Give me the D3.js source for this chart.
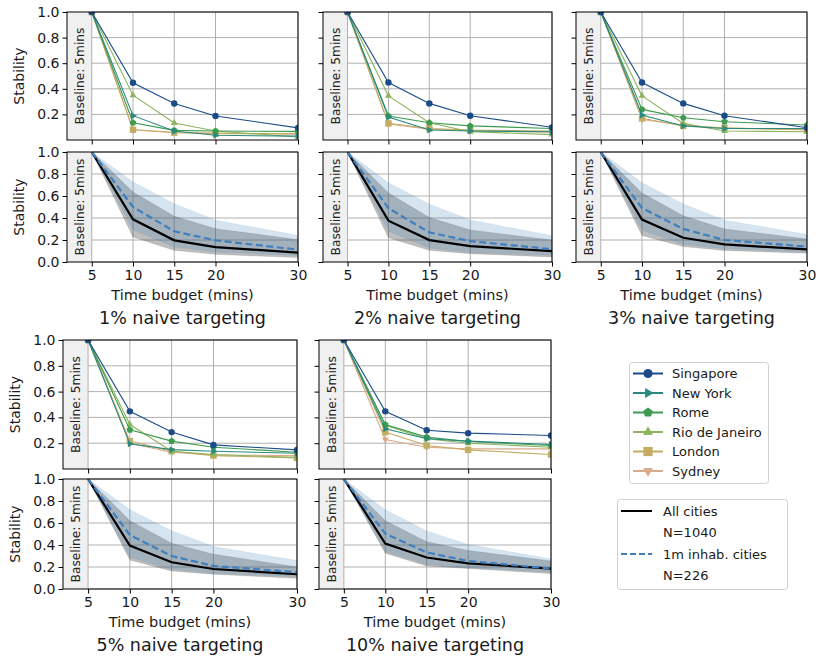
<!DOCTYPE html>
<html><head><meta charset="utf-8">
<script src="https://cdn.jsdelivr.net/npm/d3@7"></script>
<style>
html,body{margin:0;padding:0;background:#fff;}
svg text{font-family:"DejaVu Sans",sans-serif;}
</style></head>
<body><svg id="chart" width="818" height="657"></svg>
<script>
// ---------------- DATA ----------------
const timeBudgets = [5, 10, 15, 20, 30];
const panelTitles = ["1% naive targeting", "2% naive targeting", "3% naive targeting", "5% naive targeting", "10% naive targeting"];
const cityNames = ["Singapore", "New York", "Rome", "Rio de Janeiro", "London", "Sydney"];
const cityColors = ["#1c4c88", "#2a8a7e", "#3d9b4e", "#8db35c", "#c4ac62", "#d9ab8c"];
const cityMarkers = ["circle", "triRight", "pentagon", "triUp", "square", "triDown"];
const yTicksTop = [0.2, 0.4, 0.6, 0.8, 1.0];
const yTicksBottom = [0.0, 0.2, 0.4, 0.6, 0.8, 1.0];

// stability per city, one row per targeting level (1%,2%,3%,5%,10%)
const singapore = [[1, 0.447, 0.285, 0.188, 0.095], [1, 0.449, 0.286, 0.19, 0.099], [1, 0.449, 0.286, 0.19, 0.096], [1, 0.447, 0.286, 0.187, 0.148], [1, 0.447, 0.300, 0.278, 0.26]];
const newYork   = [[1, 0.19, 0.07, 0.037, 0.03], [1, 0.18, 0.078, 0.07, 0.065], [1, 0.195, 0.11, 0.09, 0.09], [1, 0.195, 0.15, 0.138, 0.122], [1, 0.312, 0.234, 0.216, 0.19]];
const rome      = [[1, 0.135, 0.075, 0.07, 0.067], [1, 0.187, 0.135, 0.11, 0.09], [1, 0.239, 0.174, 0.143, 0.117], [1, 0.304, 0.216, 0.169, 0.13], [1, 0.345, 0.247, 0.213, 0.182]];
const rio       = [[1, 0.35, 0.133, 0.07, 0.024], [1, 0.345, 0.135, 0.065, 0.042], [1, 0.345, 0.13, 0.07, 0.065], [1, 0.345, 0.138, 0.112, 0.09], [1, 0.338, 0.234, 0.2, 0.169]];
const london    = [[1, 0.08, 0.057, 0.05, 0.05], [1, 0.13, 0.09, 0.078, 0.07], [1, 0.169, 0.11, 0.096, 0.078], [1, 0.216, 0.138, 0.104, 0.086], [1, 0.286, 0.182, 0.148, 0.112]];
const sydney    = [[1, 0.08, 0.06, 0.055, 0.045], [1, 0.125, 0.085, 0.073, 0.06], [1, 0.16, 0.117, 0.09, 0.083], [1, 0.2, 0.13, 0.109, 0.104], [1, 0.229, 0.169, 0.156, 0.156]];

// aggregate curves: all cities (N=1040) and 1m inhab. cities (N=226)
const allMean = [[1, 0.388, 0.197, 0.136, 0.085], [1, 0.376, 0.199, 0.144, 0.098], [1, 0.386, 0.22, 0.16, 0.114], [1, 0.395, 0.243, 0.182, 0.134], [1, 0.413, 0.286, 0.233, 0.186]];
const allLow  = [[1, 0.227, 0.106, 0.07, 0.04], [1, 0.22, 0.107, 0.076, 0.046], [1, 0.24, 0.14, 0.105, 0.08], [1, 0.264, 0.164, 0.134, 0.097], [1, 0.326, 0.21, 0.186, 0.14]];
const allHigh = [[1, 0.636, 0.415, 0.303, 0.203], [1, 0.627, 0.404, 0.291, 0.199], [1, 0.627, 0.42, 0.3, 0.21], [1, 0.62, 0.416, 0.316, 0.2], [1, 0.62, 0.43, 0.35, 0.255]];
const bigMean = [[1, 0.5, 0.279, 0.197, 0.112], [1, 0.489, 0.269, 0.19, 0.116], [1, 0.49, 0.301, 0.2, 0.14], [1, 0.49, 0.30, 0.21, 0.152], [1, 0.503, 0.332, 0.255, 0.186]];
const bigLow  = [[1, 0.294, 0.136, 0.09, 0.06], [1, 0.28, 0.128, 0.086, 0.061], [1, 0.29, 0.16, 0.12, 0.09], [1, 0.289, 0.18, 0.143, 0.112], [1, 0.34, 0.224, 0.193, 0.155]];
const bigHigh = [[1, 0.727, 0.53, 0.379, 0.242], [1, 0.72, 0.526, 0.382, 0.239], [1, 0.72, 0.527, 0.38, 0.25], [1, 0.72, 0.529, 0.386, 0.258], [1, 0.72, 0.528, 0.404, 0.273]];

const cityData = [singapore, newYork, rome, rio, london, sydney];
const aggLabels = ["All cities", "N=1040", "1m inhab. cities", "N=226"];

// ---------------- LAYOUT ----------------
const layout = [
  {l: 67,  r: 298, t1: 12,  b1: 140, t2: 152, b2: 262, yLabels: true},
  {l: 323, r: 552, t1: 12,  b1: 140, t2: 152, b2: 262, yLabels: false},
  {l: 576, r: 807, t1: 12,  b1: 140, t2: 152, b2: 262, yLabels: false},
  {l: 63,  r: 297, t1: 340, b1: 469, t2: 479, b2: 589, yLabels: true},
  {l: 319, r: 551, t1: 340, b1: 469, t2: 479, b2: 589, yLabels: false}
];

const svg = d3.select("#chart");
const FONT = "DejaVu Sans";
const gridColor = "#b0b0b0";

function markerPath(type, s) {
  const poly = (n, rot, r) => {
    const pts = [];
    for (let i = 0; i < n; i++) {
      const a = rot + i * 2 * Math.PI / n;
      pts.push([r * Math.cos(a), r * Math.sin(a)]);
    }
    return "M" + pts.map(p => p[0].toFixed(2) + "," + p[1].toFixed(2)).join("L") + "Z";
  };
  switch (type) {
    case "circle": return d3.symbol(d3.symbolCircle, Math.PI * s * s)();
    case "square": return `M${-s},${-s}H${s}V${s}H${-s}Z`;
    case "triUp": return poly(3, -Math.PI / 2, s * 1.25);
    case "triDown": return poly(3, Math.PI / 2, s * 1.25);
    case "triRight": return poly(3, 0, s * 1.25);
    case "pentagon": return poly(5, -Math.PI / 2, s * 1.1);
  }
}

let clipId = 0;
function makeClip(x, y, w, h) {
  const id = "clip" + (clipId++);
  svg.append("clipPath").attr("id", id).append("rect").attr("x", x).attr("y", y).attr("width", w).attr("height", h);
  return "url(#" + id + ")";
}

function drawFrame(g, x, y, yTicks, top, bottom, L, showYLabels, showXLabels) {
  const xr = x.range();
  // baseline span
  g.append("rect").attr("x", x(2)).attr("y", top).attr("width", x(5) - x(2)).attr("height", bottom - top).attr("fill", "#f0f0f0");
  // grid
  const gg = g.append("g");
  timeBudgets.forEach(t => {
    if (t === 5) return;
    gg.append("line").attr("x1", x(t)).attr("x2", x(t)).attr("y1", top).attr("y2", bottom).attr("stroke", gridColor).attr("stroke-width", 1);
  });
  yTicks.forEach(v => {
    gg.append("line").attr("x1", x(5)).attr("x2", xr[1]).attr("y1", y(v)).attr("y2", y(v)).attr("stroke", gridColor).attr("stroke-width", 1);
  });
  gg.append("line").attr("x1", x(5)).attr("x2", x(5)).attr("y1", top).attr("y2", bottom).attr("stroke", gridColor).attr("stroke-width", 1);
  // baseline text
  const cx = (x(2) + x(5)) / 2, cy = (top + bottom) / 2;
  g.append("text").attr("transform", `translate(${cx + 4.5},${cy}) rotate(-90)`).attr("text-anchor", "middle")
    .attr("font-size", 12.2).attr("fill", "#222").text("Baseline: 5mins");
}

function drawAxes(g, x, y, yTicks, top, bottom, showYLabels, showXLabels) {
  const xr = x.range();
  const ax = g.append("g").attr("transform", `translate(0,${bottom})`)
    .call(d3.axisBottom(x).tickValues(timeBudgets).tickSize(4.5).tickPadding(4).tickFormat(showXLabels ? d3.format("d") : ""));
  const ay = g.append("g").attr("transform", `translate(${xr[0]},0)`)
    .call(d3.axisLeft(y).tickValues(yTicks).tickSize(4.5).tickPadding(3).tickFormat(showYLabels ? d3.format(".1f") : ""));
  [ax, ay].forEach(a => {
    a.select(".domain").remove();
    a.selectAll("line").attr("stroke", "#000").attr("stroke-width", 1);
    a.selectAll("text").attr("font-family", FONT).attr("font-size", 14).attr("fill", "#1a1a1a");
  });
  // spines
  g.append("rect").attr("x", xr[0]).attr("y", top).attr("width", xr[1] - xr[0]).attr("height", bottom - top)
    .attr("fill", "none").attr("stroke", "#000").attr("stroke-width", 1);
}

layout.forEach((L, p) => {
  const g = svg.append("g");
  const x = d3.scaleLinear().domain([2, 30]).range([L.l, L.r]);
  const yTop = d3.scaleLinear().domain([0, 1]).range([L.b1, L.t1]);
  const yBot = d3.scaleLinear().domain([0, 1]).range([L.b2, L.t2]);

  // ----- top panel: cities -----
  drawFrame(g, x, yTop, yTicksTop, L.t1, L.b1);
  const clipTop = makeClip(L.l, L.t1, L.r - L.l, L.b1 - L.t1);
  const cg = g.append("g").attr("clip-path", clipTop);
  for (let c = cityNames.length - 1; c >= 0; c--) {
    const vals = cityData[c][p];
    const pts = timeBudgets.map((t, i) => [x(t), yTop(vals[i])]);
    cg.append("path").attr("d", d3.line()(pts)).attr("fill", "none").attr("stroke", cityColors[c]).attr("stroke-width", 1.1);
    cg.selectAll(null).data(pts).join("path")
      .attr("transform", d => `translate(${d[0]},${d[1]})`)
      .attr("d", markerPath(cityMarkers[c], 3.2)).attr("fill", cityColors[c]);
  }
  drawAxes(g, x, yTop, yTicksTop, L.t1, L.b1, L.yLabels, false);

  // ----- bottom panel: aggregates -----
  drawFrame(g, x, yBot, yTicksBottom, L.t2, L.b2);
  const clipBot = makeClip(L.l, L.t2, L.r - L.l, L.b2 - L.t2);
  const bg = g.append("g").attr("clip-path", clipBot);
  const area = (lo, hi) => d3.area().x((d, i) => x(timeBudgets[i])).y0((d, i) => yBot(lo[i])).y1((d, i) => yBot(hi[i]))(lo);
  bg.append("path").attr("d", area(allLow[p], allHigh[p])).attr("fill", "#3a3a3a").attr("fill-opacity", 0.33)
    .attr("stroke", "#3a3a3a").attr("stroke-opacity", 0.15);
  bg.append("path").attr("d", area(bigLow[p], bigHigh[p])).attr("fill", "#4682b4").attr("fill-opacity", 0.22)
    .attr("stroke", "#4682b4").attr("stroke-opacity", 0.1);
  const line = arr => d3.line().x((d, i) => x(timeBudgets[i])).y(d => yBot(d))(arr);
  bg.append("path").attr("d", line(allMean[p])).attr("fill", "none").attr("stroke", "#000").attr("stroke-width", 2.2);
  bg.append("path").attr("d", line(bigMean[p])).attr("fill", "none").attr("stroke", "#3f7fbf").attr("stroke-width", 2.2)
    .attr("stroke-dasharray", "7,3.5");
  drawAxes(g, x, yBot, yTicksBottom, L.t2, L.b2, L.yLabels, true);

  // labels
  const midX = (L.l + L.r) / 2;
  g.append("text").attr("x", midX).attr("y", L.b2 + 38).attr("text-anchor", "middle").attr("font-size", 14.5).attr("fill", "#1a1a1a").text("Time budget (mins)");
  g.append("text").attr("x", midX).attr("y", L.b2 + 62).attr("text-anchor", "middle").attr("font-size", 17.5).attr("fill", "#1a1a1a").text(panelTitles[p]);
  if (L.yLabels) {
    [[L.t1, L.b1], [L.t2, L.b2]].forEach(([t, b]) => {
      g.append("text").attr("transform", `translate(${L.l - 43},${(t + b) / 2}) rotate(-90)`).attr("text-anchor", "middle")
        .attr("font-size", 14).attr("fill", "#1a1a1a").text("Stability");
    });
  }
});

// ---------------- LEGENDS ----------------
const leg1 = svg.append("g");
leg1.append("rect").attr("x", 629.5).attr("y", 362.5).attr("width", 139).attr("height", 121).attr("rx", 3)
  .attr("fill", "#fff").attr("stroke", "#d0d0d0").attr("stroke-width", 1);
cityNames.forEach((name, c) => {
  const yy = 373.5 + c * 19.5;
  leg1.append("line").attr("x1", 633).attr("x2", 663).attr("y1", yy).attr("y2", yy).attr("stroke", cityColors[c]).attr("stroke-width", 2);
  leg1.append("path").attr("transform", `translate(648,${yy})`).attr("d", markerPath(cityMarkers[c], 4.6)).attr("fill", cityColors[c]);
  leg1.append("text").attr("x", 672).attr("y", yy + 4.6).attr("font-size", 13).attr("fill", "#1a1a1a").text(name);
});

const leg2 = svg.append("g");
leg2.append("rect").attr("x", 617.5).attr("y", 499.5).attr("width", 170).attr("height", 90).attr("rx", 3)
  .attr("fill", "#fff").attr("stroke", "#d0d0d0").attr("stroke-width", 1);
aggLabels.forEach((lab, i) => {
  const yy = 511 + i * 21.5;
  if (i === 0) leg2.append("line").attr("x1", 621).attr("x2", 652).attr("y1", yy).attr("y2", yy).attr("stroke", "#000").attr("stroke-width", 2);
  if (i === 2) leg2.append("line").attr("x1", 621).attr("x2", 652).attr("y1", yy).attr("y2", yy).attr("stroke", "#3f7fbf").attr("stroke-width", 2).attr("stroke-dasharray", "6,3");
  leg2.append("text").attr("x", 663).attr("y", yy + 4.6).attr("font-size", 13).attr("fill", "#1a1a1a").text(lab);
});
</script>
</body></html>
